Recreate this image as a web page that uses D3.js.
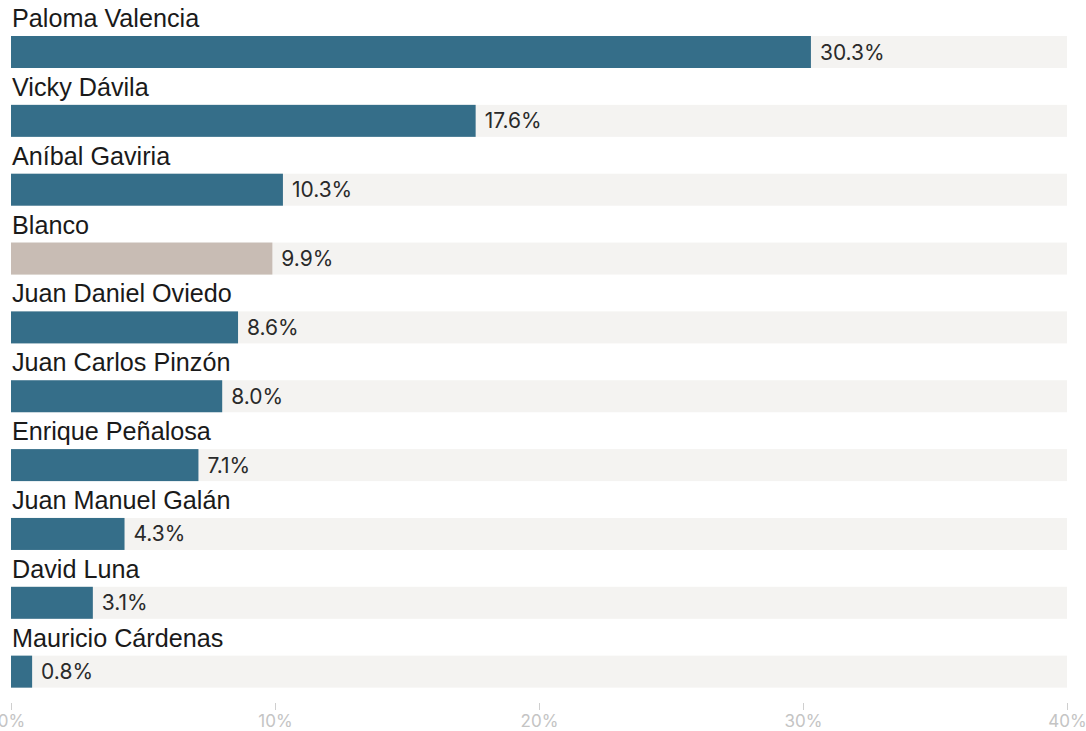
<!DOCTYPE html>
<html><head><meta charset="utf-8">
<script src="https://cdn.jsdelivr.net/npm/d3@7"></script>
<style>
html,body{margin:0;padding:0;background:#fff;}
svg{display:block;}
</style></head>
<body>
<svg id="chart" width="1086" height="731"></svg>
<script>
const candidates = ["Paloma Valencia","Vicky Dávila","Aníbal Gaviria","Blanco","Juan Daniel Oviedo","Juan Carlos Pinzón","Enrique Peñalosa","Juan Manuel Galán","David Luna","Mauricio Cárdenas"];
const values = [30.3,17.6,10.3,9.9,8.6,8.0,7.1,4.3,3.1,0.8];
const highlight = ["Blanco"];
const tickValues = [0,10,20,30,40];

const svg = d3.select("#chart");
const x = d3.scaleLinear().domain([0,40]).range([11,1067]);
const rowTop = d3.scaleBand().domain(candidates).range([36, 36+68.85*candidates.length]).paddingInner(0).paddingOuter(0);
const barH = 32;

const g = svg.append("g");
const rows = g.selectAll("g.row").data(candidates.map((c,i)=>({name:c,value:values[i]}))).join("g")
  .attr("class","row")
  .attr("transform", d=>`translate(0,${rowTop(d.name)})`);

rows.append("rect").attr("x", x(0)).attr("y",0).attr("width", x(40)-x(0)).attr("height", barH).attr("fill","#f4f3f1");
rows.append("rect").attr("x", x(0)).attr("y",0).attr("width", d=>x(d.value)-x(0)).attr("height", barH)
  .attr("fill", d=> highlight.includes(d.name) ? "#c8bcb4" : "#356e89");
rows.append("text").attr("x", 12).attr("y", -9).text(d=>d.name)
  .attr("font-family","Liberation Sans, Arial, sans-serif").attr("font-size","25.2px").attr("fill","#1a1a1a");
rows.append("text").attr("x", d=>x(d.value)+9).attr("y", barH/2).attr("dy","0.36em")
  .text(d=>d3.format(".1f")(d.value)+"%")
  .attr("font-family","Inter, sans-serif").attr("font-size","21px").attr("fill","#2a2a2a");

const axis = d3.axisBottom(x).tickValues(tickValues).tickFormat(d=>d+"%").tickSize(7).tickPadding(5);
const ag = svg.append("g").attr("transform","translate(0,703)").call(axis);
ag.select(".domain").remove();
ag.selectAll("line").attr("stroke","#cfcfcf");
ag.selectAll("text").attr("fill","#c4c4c4").attr("font-family","Inter, sans-serif").attr("font-size","17px");
</script>
</body></html>
